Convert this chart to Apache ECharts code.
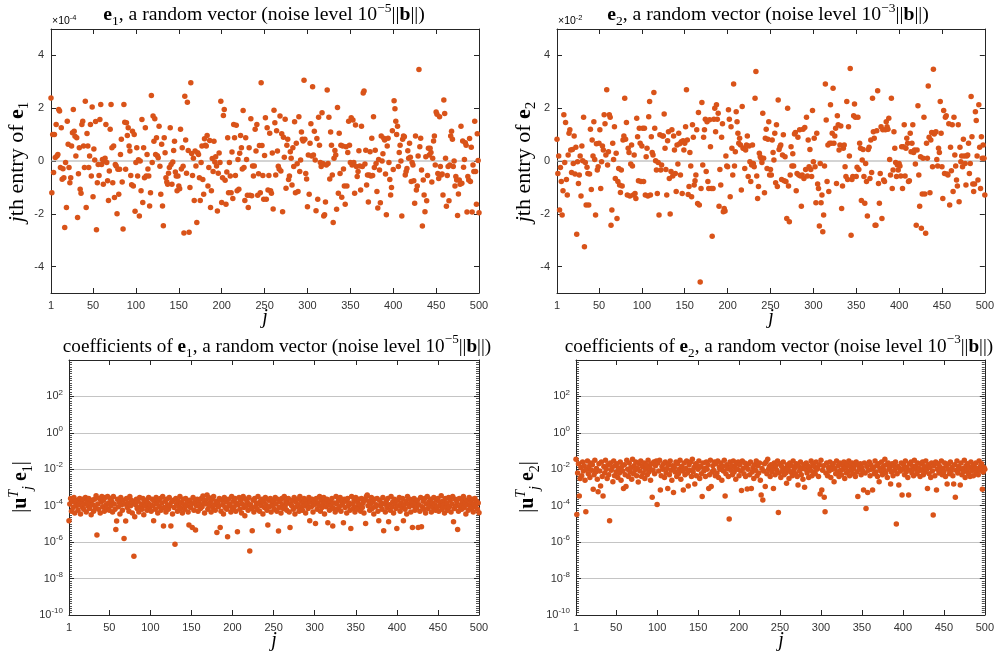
<!DOCTYPE html>
<html><head><meta charset="utf-8">
<script src="https://cdn.jsdelivr.net/npm/echarts@6/dist/echarts.min.js"></script>
<style>html,body{margin:0;padding:0;background:#fff}#c{width:997px;height:656px}</style>
</head><body><div id="c"></div>
<script>
// ---------- data ----------
const jTicks = [1, 50, 100, 150, 200, 250, 300, 350, 400, 450, 500];
const entryTicks = [-4, -2, 0, 2, 4];
const zeroLine = [[1, 0], [500, 0]];

// e1 entries, units of 1e-4, j = 1..500
const e1Values = [
2.39,-1.2,1.0,-0.44,1.0,0.13,1.38,0.19,0.25,1.95,1.89,-0.25,1.26,-0.69,-0.29,-0.63,-2.52,-0.06,-1.76,1.51,0.63,-0.25,-0.82,-0.63,0.57,1.07,1.95,1.13,0.94,0.19,0.88,-2.14,-0.48,0.5,-1.07,-1.22,1.38,1.51,0.57,-0.25,2.26,-1.76,1.04,0.57,-0.25,0.19,1.38,-0.57,2.05,
-1.35,0.45,0.04,1.5,-2.6,-0.82,-0.13,-0.55,1.57,2.14,-0.13,0.06,-0.88,0.0,0.1,1.38,-0.06,-0.75,-1.5,-0.38,1.2,2.14,0.5,-0.82,0.57,-1.38,-0.13,-0.19,-2.0,-0.31,-1.26,-0.31,0.25,0.82,-0.8,-2.58,2.14,1.47,-0.31,1.45,0.97,1.26,0.57,0.38,-0.55,-0.9,1.13,-0.95,1.0,-1.9,
-0.06,0.5,-0.57,0.05,-2.08,0.0,-1.13,1.57,-1.57,0.5,-0.63,1.26,-0.57,0.25,-0.3,-0.57,-1.7,-1.2,2.48,-0.06,1.7,0.75,1.6,0.25,0.88,0.2,0.12,1.32,-0.2,-1.26,0.63,-1.7,-2.45,0.88,0.31,-0.63,-0.8,-0.88,-0.46,-0.25,1.26,-0.13,-0.88,-0.04,0.4,0.75,-0.42,-0.57,-1.13,-0.57,
-0.95,-1.05,1.2,-0.3,0.5,-0.2,-2.73,2.45,0.8,-0.46,2.23,0.4,-2.7,-1.0,2.96,0.28,-0.55,0.1,-1.5,0.38,-0.19,-2.33,0.31,0.25,-0.63,-1.5,-0.06,0.57,-0.7,-1.26,0.84,0.6,0.57,0.97,-0.95,-0.25,0.78,-1.76,-1.13,0.09,-0.4,0.75,-0.04,0.16,-0.19,-1.89,-0.46,0.3,-0.06,2.26,
-1.57,-0.63,1.72,1.95,-0.73,-1.64,-0.42,0.88,-1.2,-0.06,-0.57,-1.2,0.34,-1.42,1.38,0.88,-0.55,1.35,-1.13,0.06,-1.07,0.29,0.97,0.5,-0.3,1.91,-0.25,-1.5,0.88,0.06,-1.3,-1.76,0.5,-1.3,1.6,-1.32,-0.19,-0.57,-0.19,1.2,0.38,1.38,-1.3,-0.48,0.59,-1.2,2.96,0.59,-0.55,-1.45,
0.21,1.64,-1.45,1.26,-1.1,-0.55,1.05,-1.13,-1.22,0.3,-1.82,1.92,1.45,-0.53,1.15,0.38,-0.2,-0.3,1.7,-0.38,1.03,-1.92,0.9,0.14,1.58,-1.03,0.6,0.82,-0.7,-0.57,0.35,0.1,-0.91,0.5,-0.21,1.49,-1.2,0.67,-0.1,-1.16,1.68,-0.4,0.04,1.1,0.82,0.76,3.06,0.82,-0.47,-0.68,
-1.73,0.23,-1.26,0.67,1.41,0.19,2.81,0.23,1.13,0.04,-1.88,0.85,-1.45,1.66,0.6,-0.06,-0.21,1.83,-0.09,-2.08,-2.04,-1.55,-0.15,2.69,-0.09,1.66,-0.68,1.1,0.6,-0.53,-2.33,0.1,0.4,0.23,-1.83,2.03,-1.22,1.05,-0.47,0.6,-1.37,0.57,-0.3,-0.95,-1.64,0.54,-0.95,0.32,1.51,0.6,
-0.06,1.64,-0.15,1.55,-0.06,-1.22,1.36,-0.21,-0.59,-0.4,0.39,-0.19,-1.1,1.32,-0.21,2.58,2.65,-0.11,0.41,-0.91,-0.53,-1.55,-0.53,0.35,-0.57,0.86,-0.55,1.68,-0.25,0.41,-0.09,-1.16,-1.78,0.06,-0.34,-1.58,0.95,0.0,0.27,0.86,0.8,-0.49,-2.04,0.57,0.86,-0.06,-0.7,-1.29,-1.0,1.15,
-0.32,2.28,1.98,1.51,1.0,1.32,-0.21,0.32,0.6,0.0,-2.08,0.82,0.95,0.92,-0.53,-0.4,-0.28,0.39,0.1,0.67,0.14,-0.78,-0.06,-0.15,-0.75,-1.6,0.95,-1.1,-0.95,0.19,3.47,0.54,0.86,-0.34,-2.46,-0.72,-1.29,-1.92,0.16,-1.51,-0.55,0.48,0.23,0.48,0.32,-0.8,0.1,0.76,0.95,-0.15,
1.86,1.77,-0.47,-0.66,1.68,-0.21,-0.53,-0.49,-1.29,2.31,1.8,0.1,-1.71,-0.55,-0.21,-1.51,-0.15,0.95,1.13,0.82,-0.21,0.0,-0.95,-0.59,-0.72,-2.06,-1.25,-0.72,-0.88,1.32,-0.84,0.76,-0.24,0.06,0.69,0.6,-1.93,-0.59,-0.72,0.85,-0.78,0.52,-1.93,-0.15,-0.4,1.51,-0.4,-1.64,1.03,0.02,-1.96
];

// e2 entries, units of 1e-2, j = 1..500
const e2Values = [
0.82,-0.47,0.19,-1.86,-0.25,-0.78,-2.05,-1.13,1.75,-0.06,1.46,-0.7,-1.29,0.23,1.05,1.18,0.42,-0.44,0.44,-0.09,0.95,-0.49,0.52,-2.77,-0.03,-0.85,-0.53,0.19,-1.33,0.57,0.01,1.66,-3.25,-0.06,-1.67,-0.24,-0.47,-1.67,-0.49,1.2,-1.08,0.8,0.19,1.49,0.06,-2.05,0.65,-0.34,-0.22,
0.67,1.18,-1.04,-0.03,0.57,0.42,1.75,1.41,0.23,2.7,-0.15,0.35,1.75,1.66,-2.43,-1.86,0.67,0.06,1.3,-0.66,0.29,-2.18,-0.78,-0.28,-0.91,-1.19,-0.34,-0.95,0.8,0.95,2.38,0.82,1.46,-1.29,0.48,0.32,-1.33,-0.11,0.61,-0.19,-1.29,0.23,-1.23,-1.42,1.62,0.92,-0.75,1.24,0.67,-0.78,
0.57,1.24,-0.78,1.24,-1.29,0.16,0.48,-1.33,1.68,2.25,-1.29,0.92,0.32,0.23,2.59,1.24,0.01,-0.34,-1.23,-0.06,-2.05,0.99,-0.34,-0.15,0.95,0.95,1.78,0.48,-0.32,-1.29,0.77,1.11,-0.66,-2.01,-0.4,1.18,-0.57,0.95,0.42,-0.47,-1.16,0.61,-0.11,1.05,0.65,-0.53,0.73,-1.23,0.77,0.42,
0.67,1.3,2.7,0.8,-1.27,-0.97,0.32,-0.19,-1.35,1.37,0.9,-0.91,-0.75,-0.53,1.18,-1.61,1.84,-1.67,-4.58,-1.04,2.22,-0.15,0.9,1.18,1.58,-0.4,1.49,-0.78,-1.04,1.56,0.54,-1.04,-2.85,-1.04,1.58,2.0,1.11,2.13,1.58,1.81,-1.71,-0.32,-0.91,0.9,1.41,-1.92,-1.8,-1.89,0.19,-0.19,
-0.22,1.94,1.58,-1.35,1.3,0.48,-0.53,2.92,-0.19,0.35,1.87,1.49,1.05,0.67,0.86,0.61,-1.1,2.06,0.48,0.48,-0.28,0.42,0.61,0.95,-0.59,0.57,-0.03,-0.78,-0.15,0.61,-0.09,-0.22,2.38,3.39,-0.57,-1.42,-0.97,0.29,0.16,0.1,-0.06,1.81,0.1,-1.2,0.86,1.2,-0.28,0.82,1.49,-0.53,
-0.32,-0.53,0.8,0.32,0.04,1.05,-0.82,1.37,-0.97,2.31,0.44,0.54,0.61,-0.7,0.23,0.99,-0.75,0.16,-0.78,-2.18,2.0,-0.95,-2.3,-0.53,0.54,-0.19,0.27,-0.19,1.02,1.08,-1.13,-0.47,0.9,-0.53,1.18,-0.57,-1.71,-0.53,1.2,-0.66,1.27,-0.32,1.66,-0.57,0.8,-0.22,0.44,-0.32,-0.59,1.91,
-0.03,0.86,-0.22,-1.58,1.05,-0.87,-1.04,-2.46,-0.09,-1.58,-1.29,-2.68,-2.05,-0.19,2.92,1.55,-0.78,0.61,-1.16,0.67,2.13,0.67,1.05,2.76,0.67,0.95,1.24,-0.85,1.71,1.37,0.42,0.61,1.33,-1.8,-0.95,0.48,0.61,-0.22,-0.59,2.25,-0.7,1.3,0.19,3.5,-2.81,-0.7,-0.59,1.71,2.16,1.66,
-0.59,-0.24,1.66,-0.32,0.67,0.48,-1.5,0.04,0.44,-0.59,-1.6,-0.09,-0.78,-2.08,0.44,0.52,-0.66,0.8,-0.44,2.38,1.11,0.86,-2.43,-2.43,1.15,2.66,-0.85,-1.6,-0.47,1.3,-2.18,1.18,-0.72,-0.78,1.18,1.49,1.3,1.2,1.62,0.06,-0.53,2.38,-1.04,-0.34,1.11,0.48,-0.06,-0.59,-0.15,-0.34,
-0.09,-0.19,-0.57,0.54,-1.04,0.54,1.37,-0.57,0.48,0.86,0.67,-0.78,-0.75,1.05,0.35,0.67,1.37,0.32,0.42,-0.11,-2.43,0.42,2.09,-0.53,-1.71,0.16,-2.55,-1.25,0.1,1.66,-1.25,-2.74,0.67,0.1,2.84,0.9,-1.2,0.8,1.08,-0.22,3.48,1.02,1.08,1.11,0.06,-0.19,0.48,0.32,2.25,1.05,
-0.22,-1.42,1.91,-0.47,1.66,1.71,-0.49,-0.53,1.41,-1.67,0.52,-0.37,1.37,-1.16,1.66,0.23,-0.19,-0.72,-0.95,1.37,-1.54,0.52,-0.03,0.19,-0.22,0.82,0.19,-0.09,-0.91,0.19,0.23,0.67,-0.47,-0.09,2.44,0.92,-0.87,-1.16,-0.87,1.87,1.53,0.19,-0.72,2.13,0.52,-1.04,0.92,0.1,0.61,0.1,-1.29
];

// log10 |u_j^T e1|, j = 1..500
const coef1Log10 = [
-4.83,-3.9,-3.6,-4.3,-3.75,-4.1,-3.55,-4.4,-3.85,-4.0,-3.7,-4.25,-3.95,-3.6,-4.45,-3.8,-4.05,-3.65,-4.2,-3.9,-3.55,-4.35,-3.75,-4.0,-3.6,-4.15,-3.85,-4.5,-3.7,-3.95,-4.3,-3.65,-4.1,-3.45,-5.61,-3.9,-4.2,-3.6,-4.4,-3.8,-3.5,-4.05,-3.7,-4.3,-3.55,-3.95,-4.15,-3.5,-3.85,-4.25,
-3.6,-4.0,-3.75,-4.35,-3.5,-3.9,-4.2,-5.3,-4.84,-3.65,-4.05,-3.8,-4.45,-3.55,-3.95,-4.25,-3.7,-5.8,-3.9,-4.84,-3.6,-4.1,-3.85,-4.3,-3.5,-4.0,-3.7,-4.4,-3.8,-6.77,-4.6,-3.95,-3.65,-4.15,-3.75,-4.35,-3.55,-4.05,-3.9,-4.2,-3.6,-4.5,-3.8,-4.0,-3.7,-4.25,-3.85,-3.55,-4.1,-3.95,
-4.3,-3.65,-4.0,-4.83,-3.75,-4.2,-3.55,-3.9,-4.4,-3.7,-4.05,-3.6,-4.25,-3.85,-3.5,-5.12,-4.1,-3.75,-4.35,-3.65,-3.95,-4.2,-3.55,-4.0,-5.12,-3.8,-4.45,-3.7,-4.1,-6.11,-3.6,-3.9,-4.3,-3.75,-4.05,-3.5,-4.15,-3.85,-4.4,-3.65,-3.95,-4.2,-3.6,-4.0,-3.8,-4.35,-5.06,-3.7,-4.1,-3.9,
-5.19,-3.55,-4.25,-3.8,-5.34,-4.0,-3.65,-4.3,-3.75,-3.95,-4.15,-3.6,-4.05,-3.47,-3.85,-4.4,-3.7,-3.9,-3.41,-4.2,-3.55,-4.0,-3.8,-4.35,-3.65,-4.1,-3.5,-3.95,-4.25,-3.75,-5.47,-3.85,-4.05,-3.6,-5.19,-4.3,-3.7,-3.95,-4.45,-3.55,-4.1,-3.8,-4.2,-5.71,-3.65,-4.0,-3.9,-4.35,-3.5,-4.15,
-3.75,-4.05,-3.6,-4.3,-3.85,-5.43,-3.95,-3.55,-4.2,-3.7,-4.4,-3.9,-3.5,-4.1,-4.55,-3.65,-4.0,-3.8,-4.25,-3.55,-6.48,-3.95,-4.15,-5.38,-3.7,-4.35,-3.6,-4.05,-3.85,-4.2,-3.5,-3.9,-4.3,-3.75,-4.0,-3.65,-4.45,-3.8,-4.1,-3.55,-3.95,-4.25,-5.06,-3.7,-4.05,-3.6,-4.35,-3.85,-4.0,-3.75,
-4.2,-3.55,-3.9,-4.3,-3.65,-5.39,-4.1,-3.8,-4.4,-3.6,-3.95,-4.15,-3.5,-4.05,-3.75,-4.25,-3.85,-3.6,-4.35,-5.19,-3.9,-4.0,-3.7,-4.2,-3.55,-4.45,-3.8,-4.05,-3.65,-3.95,-4.3,-3.5,-4.1,-3.75,-4.25,-3.85,-3.6,-4.0,-4.4,-3.7,-3.9,-4.15,-3.55,-4.83,-3.8,-4.05,-3.65,-4.35,-3.95,-3.75,
-4.97,-3.6,-4.2,-3.85,-4.0,-3.5,-4.3,-3.7,-4.1,-3.9,-3.55,-4.45,-3.8,-4.05,-3.65,-4.94,-3.95,-4.25,-3.75,-4.0,-3.6,-5.12,-4.15,-3.85,-4.35,-3.5,-3.9,-4.2,-3.7,-4.05,-3.55,-4.3,-3.8,-3.95,-4.94,-3.65,-4.1,-3.75,-4.4,-3.6,-4.0,-3.85,-4.25,-5.25,-3.5,-3.9,-4.15,-3.7,-4.35,-3.55,
-4.05,-3.8,-4.2,-3.65,-3.95,-4.3,-3.6,-4.1,-3.85,-4.4,-3.7,-4.97,-3.5,-3.41,-4.0,-3.75,-4.25,-3.9,-3.55,-4.15,-3.8,-4.45,-3.65,-4.05,-3.95,-3.6,-4.3,-4.83,-3.7,-4.0,-3.85,-4.2,-3.55,-5.38,-3.9,-4.35,-3.75,-4.1,-3.6,-4.88,-3.95,-4.25,-3.5,-4.05,-3.8,-4.4,-3.65,-3.9,-4.15,-5.25,
-3.7,-4.0,-3.55,-4.3,-3.85,-4.1,-3.6,-4.83,-3.95,-4.2,-3.75,-4.45,-3.5,-3.9,-4.05,-3.65,-4.35,-3.8,-5.19,-4.0,-3.6,-4.25,-3.85,-4.1,-3.7,-5.19,-3.95,-4.3,-3.55,-5.16,-4.05,-3.75,-4.2,-3.6,-4.4,-3.9,-3.5,-4.15,-3.8,-4.0,-3.65,-4.35,-3.85,-4.1,-3.55,-3.95,-4.25,-3.7,-4.05,-3.6,
-4.3,-3.8,-4.0,-3.45,-4.2,-3.75,-3.95,-4.4,-3.6,-4.1,-3.85,-4.25,-3.55,-4.05,-3.7,-4.35,-3.9,-3.5,-4.88,-4.15,-3.65,-4.0,-3.8,-5.3,-4.3,-3.6,-4.05,-3.95,-4.2,-3.75,-3.5,-4.1,-3.85,-4.45,-3.7,-3.95,-4.25,-3.55,-4.0,-3.8,-4.15,-3.65,-4.35,-3.9,-3.6,-4.05,-3.75,-4.2,-3.85,-4.39
];

// log10 |u_j^T e2|, j = 1..500
const coef2Log10 = [
-1.45,-4.48,-2.2,-1.7,-3.47,-2.5,-1.9,-2.35,-1.6,-2.1,-1.8,-2.6,-4.33,-2.0,-1.55,-2.25,-1.85,-2.45,-1.65,-2.05,-1.75,-3.1,-2.3,-1.5,-2.15,-1.95,-2.55,-3.23,-1.7,-2.1,-2.92,-1.6,-2.4,-3.47,-1.85,-2.2,-1.5,-2.0,-2.5,-1.75,-2.3,-4.83,-1.65,-2.05,-1.9,-2.68,-1.55,-2.35,-1.8,-2.15,
-1.7,-2.45,-1.95,-2.2,-1.6,-2.6,-1.85,-2.1,-3.05,-1.75,-2.3,-2.95,-1.5,-2.0,-2.4,-1.65,-2.15,-1.9,-2.55,-1.45,-2.25,-1.8,-2.05,-1.6,-2.35,-1.95,-2.7,-1.7,-2.1,-1.55,-2.4,-1.85,-2.2,-1.65,-2.5,-2.0,-1.75,-2.3,-1.5,-2.15,-1.9,-2.6,-1.7,-3.54,-2.05,-1.6,-2.25,-1.8,-1.55,-3.94,
-1.65,-2.1,-1.5,-3.14,-2.35,-1.85,-2.0,-1.7,-2.45,-1.6,-2.2,-1.95,-3.05,-1.75,-2.3,-1.55,-2.05,-2.6,-1.8,-3.28,-1.9,-2.15,-1.6,-2.4,-1.7,-2.25,-2.0,-1.5,-2.55,-1.85,-2.1,-3.14,-1.65,-2.3,-1.95,-1.55,-2.2,-2.92,-1.75,-2.05,-1.6,-2.4,-1.45,-2.15,-1.9,-2.81,-1.7,-2.35,-1.8,-2.0,
-1.55,-2.5,-1.85,-2.25,-3.5,-1.65,-2.1,-1.95,-2.4,-1.6,-2.0,-1.75,-3.05,-2.3,-1.5,-2.95,-2.15,-1.8,-2.05,-1.6,-2.35,-1.7,-2.2,-1.55,-2.45,-1.9,-2.0,-1.65,-2.6,-1.85,-2.1,-1.5,-3.47,-2.25,-1.75,-1.95,-2.4,-4.73,-1.6,-2.05,-1.8,-2.3,-1.55,-2.15,-1.9,-2.55,-1.7,-2.0,-1.6,-2.35,
-1.75,-2.1,-3.17,-1.55,-1.95,-2.25,-1.65,-2.4,-1.85,-3.08,-2.0,-1.7,-2.3,-1.6,-3.05,-2.15,-1.9,-2.5,-1.75,-2.05,-1.55,-2.35,-1.8,-2.2,-1.65,-2.6,-3.41,-1.95,-3.69,-2.1,-1.7,-2.95,-1.6,-2.25,-1.45,-2.0,-1.85,-2.4,-1.75,-2.15,-1.9,-3.05,-1.65,-2.3,-1.8,-2.05,-1.55,-4.37,-2.2,-1.7,
-2.45,-1.85,-2.1,-1.6,-2.3,-1.95,-2.2,-2.77,-1.75,-2.0,-2.5,-1.65,-2.15,-1.8,-2.35,-1.55,-2.05,-1.9,-2.25,-1.7,-2.4,-2.86,-1.85,-2.1,-1.6,-2.3,-1.95,-2.55,-1.75,-2.99,-2.0,-1.65,-2.2,-1.8,-2.45,-1.9,-2.05,-1.55,-2.35,-1.7,-2.15,-1.85,-2.25,-1.6,-2.0,-1.95,-2.4,-1.75,-3.36,-1.5,
-3.14,-2.05,-1.8,-3.54,-4.33,-2.2,-1.65,-2.35,-1.9,-2.1,-1.6,-2.45,-1.85,-2.0,-1.7,-2.68,-1.95,-2.25,-1.55,-2.15,-1.8,-2.4,-1.65,-2.05,-2.3,-1.75,-2.0,-1.6,-2.5,-1.9,-2.2,-1.7,-2.1,-1.55,-2.35,-1.85,-2.05,-1.65,-2.25,-1.95,-1.75,-2.4,-1.6,-2.15,-3.5,-1.8,-2.0,-1.7,-2.3,-1.9,
-2.1,-3.14,-1.65,-2.2,-4.15,-1.85,-3.28,-2.05,-1.6,-2.35,-1.75,-2.0,-3.14,-1.9,-2.25,-1.55,-2.15,-1.8,-2.4,-1.7,-2.68,-1.95,-2.1,-1.6,-2.3,-1.85,-2.05,-1.45,-2.2,-1.75,-2.45,-1.65,-2.0,-1.9,-2.81,-2.15,-1.7,-2.35,-1.8,-2.05,-1.6,-5.0,-2.25,-1.85,-2.86,-1.95,-2.1,-1.65,-3.41,-2.0,
-1.75,-2.3,-1.55,-2.15,-1.9,-2.45,-3.41,-1.7,-2.05,-1.6,-2.2,-1.85,-2.35,-1.5,-2.0,-1.8,-2.25,-1.65,-2.1,-1.95,-2.4,-1.7,-2.05,-1.6,-2.3,-1.85,-2.15,-1.55,-2.0,-3.05,-1.75,-2.25,-1.9,-2.45,-1.65,-2.1,-4.51,-1.8,-2.35,-1.6,-3.14,-2.0,-1.7,-2.2,-1.85,-2.05,-1.55,-2.3,-1.95,-2.15,
-1.65,-2.4,-1.8,-2.81,-2.0,-1.7,-2.25,-1.6,-2.1,-1.9,-2.35,-2.81,-1.75,-3.54,-2.05,-1.55,-2.2,-1.85,-2.0,-2.86,-1.65,-2.3,-1.95,-2.15,-1.5,-2.45,-1.8,-2.05,-1.7,-2.25,-1.9,-2.4,-1.6,-2.1,-1.85,-2.35,-1.75,-2.0,-1.65,-2.2,-1.95,-2.3,-1.55,-2.05,-1.8,-1.7,-3.1,-2.15,-1.9,-2.0
];

// ---------- styling ----------
const DOT = '#D95319';
const AX = '#262626';
const LBL = '#333333';
const SANS = 'Liberation Sans';
const SERIF = 'Liberation Serif';

function serifRich(size, subSize, lh, slh) {
  return {
    r:  { fontFamily: SERIF, fontSize: size, color: '#000', lineHeight: lh },
    b:  { fontFamily: SERIF, fontSize: size, color: '#000', fontWeight: 'bold', lineHeight: lh },
    i:  { fontFamily: SERIF, fontSize: size, color: '#000', fontStyle: 'italic', lineHeight: lh },
    sb: { fontFamily: SERIF, fontSize: subSize, color: '#000', lineHeight: slh, verticalAlign: 'bottom' },
    si: { fontFamily: SERIF, fontSize: subSize, color: '#000', fontStyle: 'italic', lineHeight: slh, verticalAlign: 'bottom' },
    sp: { fontFamily: SERIF, fontSize: subSize, color: '#000', lineHeight: slh, verticalAlign: 'top' },
    spi:{ fontFamily: SERIF, fontSize: subSize, color: '#000', fontStyle: 'italic', lineHeight: slh, verticalAlign: 'top' }
  };
}
const titleRich = serifRich(19.7, 13.5, 27, 14);
const subTitleRich = serifRich(19.2, 13.2, 27, 14);
const ylabRich = serifRich(22, 15, 30, 15);
const coefLabRich = serifRich(20, 14, 28, 14);
const jRich = serifRich(20, 14, 24, 14);
const expRich = {
  a: { fontFamily: SANS, fontSize: 11, color: LBL, lineHeight: 16 },
  p: { fontFamily: SANS, fontSize: 8, color: LBL, lineHeight: 9, verticalAlign: 'top' }
};
const mulRich = {
  a: { fontFamily: SANS, fontSize: 10.5, color: LBL, lineHeight: 14 },
  p: { fontFamily: SANS, fontSize: 7.5, color: LBL, lineHeight: 8, verticalAlign: 'top' }
};

function noiseTitle(k, e) {
  return '{b|e}{sb|' + k + '}{r|, a random vector (noise level 10}{sp|\u2212' + e + '}{r|||}{b|b}{r|||)}';
}

function xAxesFor(grid) {
  const common = {
    gridIndex: grid, type: 'value', min: 1, max: 500,
    axisLine: { show: true, onZero: false, lineStyle: { color: AX, width: 1 } },
    axisTick: { show: true, inside: true, length: 5, customValues: jTicks, lineStyle: { color: AX } },
    splitLine: { show: false }
  };
  return [
    Object.assign({}, common, { position: 'bottom',
      axisLabel: { show: true, customValues: jTicks, color: LBL, fontFamily: SANS, fontSize: 11, margin: 7 } }),
    Object.assign({}, common, { position: 'top', axisLabel: { show: false } })
  ];
}
function yEntryAxes(grid) {
  const common = {
    gridIndex: grid, type: 'value', min: -5, max: 5,
    axisLine: { show: true, onZero: false, lineStyle: { color: AX, width: 1 } },
    axisTick: { show: true, inside: true, length: 5, customValues: entryTicks, lineStyle: { color: AX } },
    splitLine: { show: false }
  };
  return [
    Object.assign({}, common, { position: 'left',
      axisLabel: { show: true, customValues: entryTicks, color: LBL, fontFamily: SANS, fontSize: 11, margin: 7 } }),
    Object.assign({}, common, { position: 'right', axisLabel: { show: false } })
  ];
}
function yCoefAxes(grid) {
  const deco = {
    gridIndex: grid, type: 'value', min: -10, max: 4, interval: 2,
    axisLine: { show: true, onZero: false, lineStyle: { color: AX, width: 1 } },
    axisTick: { show: true, inside: true, length: 5, lineStyle: { color: AX } },
    minorTick: { show: true, splitNumber: 16, length: 3, lineStyle: { color: AX, width: 0.8 } }
  };
  return [
    { gridIndex: grid, type: 'log', logBase: 10, min: 1e-10, max: 1e4, show: false },
    Object.assign({}, deco, { position: 'left',
      splitLine: { show: true, lineStyle: { color: '#c4c4c4', width: 1 } },
      axisLabel: { show: true, margin: 6, rich: expRich,
        formatter: v => v === 4 ? '' : '{a|10}{p|' + v + '}' } }),
    Object.assign({}, deco, { position: 'right', splitLine: { show: false }, axisLabel: { show: false } })
  ];
}

const xAxis = [].concat(xAxesFor(0), xAxesFor(1), xAxesFor(2), xAxesFor(3));
const yAxis = [].concat(yEntryAxes(0), yEntryAxes(1), yCoefAxes(2), yCoefAxes(3));

function scatter(xi, yi, data) {
  return { type: 'scatter', xAxisIndex: xi, yAxisIndex: yi, data: data, symbol: 'circle',
    symbolSize: 5.5, itemStyle: { color: DOT, opacity: 1 }, z: 3, silent: true };
}
function zero(xi, yi) {
  return { type: 'line', xAxisIndex: xi, yAxisIndex: yi, data: zeroLine, symbol: 'none',
    lineStyle: { color: '#a8a8a8', width: 1 }, z: 2, silent: true };
}

const series = [
  zero(0, 0), scatter(0, 0, e1Values.map((v, i) => [i + 1, v])),
  zero(2, 2), scatter(2, 2, e2Values.map((v, i) => [i + 1, v])),
  scatter(4, 4, coef1Log10.map((p, i) => [i + 1, Math.pow(10, p)])),
  scatter(6, 7, coef2Log10.map((p, i) => [i + 1, Math.pow(10, p)]))
];

function txt(x, y, text, rich, rot, align) {
  return { type: 'text', x: x, y: y, rotation: rot || 0, silent: true,
    style: { text: text, rich: rich, align: align || 'center', verticalAlign: 'middle' } };
}
const graphic = [
  txt(264, 15, noiseTitle(1, 5), titleRich),
  txt(768, 15, noiseTitle(2, 3), titleRich),
  txt(277, 347, '{r|coefficients of }' + noiseTitle(1, 5), subTitleRich),
  txt(779, 347, '{r|coefficients of }' + noiseTitle(2, 3), subTitleRich),
  txt(265, 318, '{i|j}', jRich),
  txt(771, 318, '{i|j}', jRich),
  txt(274, 641, '{i|j}', jRich),
  txt(781, 641, '{i|j}', jRich),
  txt(17, 162, '{i|j}{r|th entry of }{b|e}{sb|1}', ylabRich, Math.PI / 2),
  txt(524, 162, '{i|j}{r|th entry of }{b|e}{sb|2}', ylabRich, Math.PI / 2),
  txt(21, 487, '{r||}{b|u}{spi|T}{si|j}{b| e}{sb|1}{r||}', coefLabRich, Math.PI / 2),
  txt(528, 487, '{r||}{b|u}{spi|T}{si|j}{b| e}{sb|2}{r||}', coefLabRich, Math.PI / 2),
  txt(52, 21, '{a|\u00d710}{p|-4}', mulRich, 0, 'left'),
  txt(558, 21, '{a|\u00d710}{p|-2}', mulRich, 0, 'left')
];

const chart = echarts.init(document.getElementById('c'), null, { renderer: 'canvas' });
chart.setOption({
  animation: false,
  backgroundColor: '#ffffff',
  grid: [
    { left: 51, top: 29, width: 428, height: 264 },
    { left: 557, top: 29, width: 429, height: 264 },
    { left: 69, top: 360, width: 410, height: 255 },
    { left: 576, top: 360, width: 410, height: 255 }
  ],
  xAxis: xAxis,
  yAxis: yAxis,
  series: series,
  graphic: graphic
});
</script>
</body></html>
